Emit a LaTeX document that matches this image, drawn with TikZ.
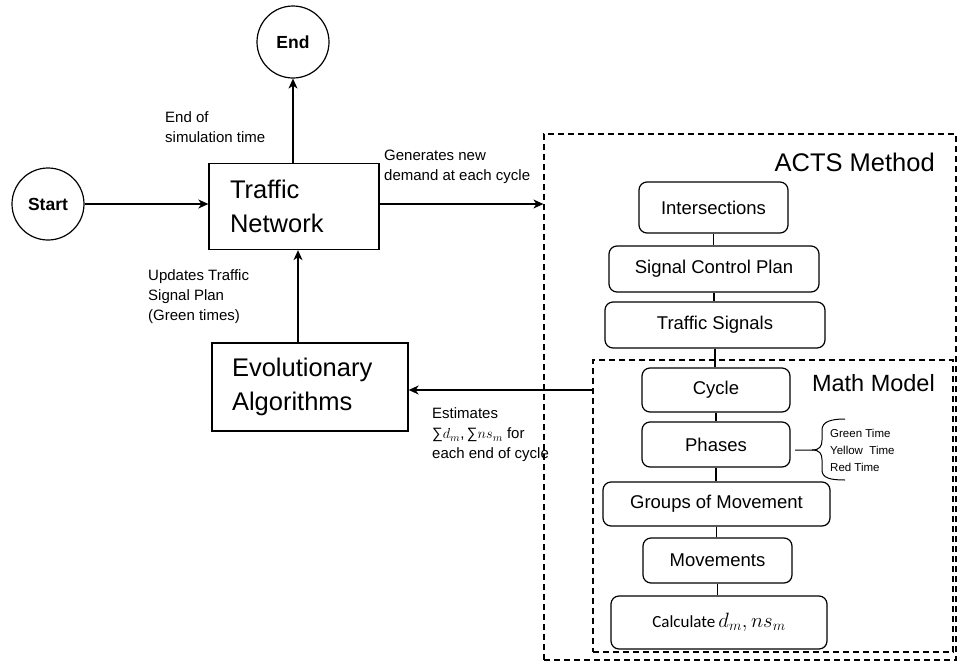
\documentclass[tikz,border=0pt]{standalone}
\usepackage{fontspec}
\setmainfont{Liberation Sans}
\newfontfamily\calfont{Carlito}
\usetikzlibrary{arrows.meta,calc}
\tikzset{
  arr/.style={-{Stealth[length=10pt,width=9pt,inset=3pt]}, line width=1.3pt},
  circ/.style={draw, circle, line width=1.2pt, minimum size=72pt, inner sep=0pt, font=\fontsize{17.5}{20}\selectfont\bfseries},
  bigbox/.style={draw, rectangle, line width=1.3pt, inner sep=0pt, align=left, font=\fontsize{25.5}{33.5}\selectfont},
  rbox/.style={draw, rectangle, rounded corners=8pt, line width=1.2pt, inner sep=0pt, font=\fontsize{18.5}{22}\selectfont},
  dbox/.style={draw, rectangle, dashed, dash pattern=on 6pt off 4pt, line width=1.2pt, inner sep=0pt},
  lbl/.style={anchor=west, align=left, inner sep=0pt, font=\fontsize{15}{20}\selectfont},
  title/.style={anchor=east, inner sep=0pt},
  conn/.style={line width=1.2pt},
  smalltxt/.style={anchor=west, inner sep=0pt, font=\fontsize{11.5}{14}\selectfont}
}
\begin{document}
\begin{tikzpicture}[x=1pt,y=-1pt]
\useasboundingbox (0,0) rectangle (959,662);
% outer dashed boxes
\node[dbox, minimum width=412pt, minimum height=526pt] (acts) at (750,397) {};
\node[dbox, minimum width=360pt, minimum height=292pt] (mm) at (773,506) {};
\node[title, font=\fontsize{25.5}{30}\selectfont] (actst) at (935,162) {ACTS Method};
\node[title, font=\fontsize{23.5}{28}\selectfont] (mmt) at (935,383) {Math Model};

% circles
\node[circ] (start) at (48,204) {Start};
\node[circ] (end) at (293,42) {End};

% main boxes
\node[bigbox, minimum width=170pt, minimum height=86pt, text width=128pt] (tn) at (294,206.5) {Traffic\\Network};
\node[bigbox, minimum width=196pt, minimum height=88pt, text width=156pt] (ea) at (310,387) {Evolutionary\\Algorithms};

% rounded boxes
\node[rbox, minimum width=149pt, minimum height=51pt] (inter) at (713.5,207.5) {Intersections};
\node[rbox, minimum width=210pt, minimum height=46pt] (scp) at (714,269) {Signal Control Plan};
\node[rbox, minimum width=220pt, minimum height=46pt] (ts) at (715,325) {Traffic Signals};
\node[rbox, minimum width=148pt, minimum height=44pt] (cyc) at (716,390) {Cycle};
\node[rbox, minimum width=148pt, minimum height=45pt] (ph) at (716,444.5) {Phases};
\node[rbox, minimum width=227pt, minimum height=44pt] (gm) at (716.5,504) {Groups of Movement};
\node[rbox, minimum width=149pt, minimum height=45pt] (mv) at (717.5,560.5) {Movements};
\node[rbox, minimum width=216pt, minimum height=53pt] (calc) at (719,622.5) {{\calfont\fontsize{17}{20}\selectfont Calculate}\,\scalebox{1.2}{$d_m, ns_m$}};

% vertical connectors
\draw[conn] (inter.south) -- (inter.south |- scp.north);
\draw[conn] (scp.south) -- (scp.south |- ts.north);
\draw[conn] (ts.south) -- (ts.south |- cyc.north);
\draw[conn] (cyc.south) -- (cyc.south |- ph.north);
\draw[conn] (ph.south) -- (ph.south |- gm.north);
\draw[conn] (gm.south) -- (gm.south |- mv.north);
\draw[conn] (mv.south) -- (mv.south |- calc.north);

% brace
\coordinate (bt) at (795,450);
\draw[line width=1pt] (bt) -- (812,450) .. controls (820,450) and (822,446) .. (822,440) -- (822,430) .. controls (822,422) and (830,419) .. (845,419);
\draw[line width=1pt] (812,450) .. controls (820,450) and (822,454) .. (822,460) -- (822,470) .. controls (822,478) and (830,480) .. (845,480);
\node[smalltxt] (gt) at (830,433) {Green Time};
\node[smalltxt] (yt) at (830,450) {Yellow\ \ Time};
\node[smalltxt] (rt) at (830,467) {Red Time};

% arrows
\draw[arr] (start.east) -- (start.east -| tn.west);
\coordinate (tnout) at (tn.east |- start.east);
\draw[arr] (tnout) -- (tnout -| acts.west);
\draw[arr] (end.south |- tn.north) -- (end.south);
\draw[arr] ([xshift=4pt]ea.north -| tn.south) -- ([xshift=4pt]tn.south);
\draw[arr] (mm.west |- cyc) -- (ea.east |- cyc);

% labels
\node[lbl] (l1) at (165,127) {End of\\simulation time};
\node[lbl] (l2) at (384,167) {Generates new\\demand at each cycle};
\node[lbl] (l3) at (148,297) {Updates Traffic\\Signal Plan\\(Green times)};
\node[lbl] (l4) at (432,435) {Estimates\\∑$d_m$,\,∑$ns_m$ for\\each end of cycle};
\end{tikzpicture}
\end{document}
